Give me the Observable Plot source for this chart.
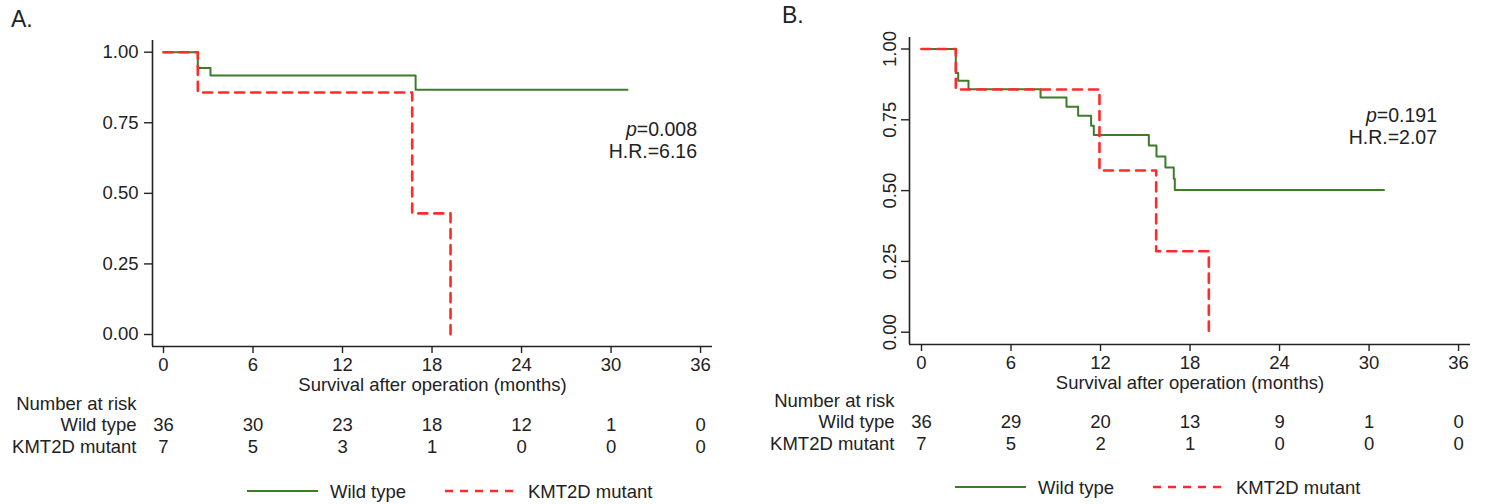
<!DOCTYPE html>
<html>
<head>
<meta charset="utf-8">
<script src="https://cdn.jsdelivr.net/npm/d3@7"></script>
<script src="https://cdn.jsdelivr.net/npm/@observablehq/plot@0.6"></script>
<style>
  html, body { margin: 0; padding: 0; background: #fff; }
  #root { position: relative; width: 1486px; height: 504px; overflow: hidden; font-family: "Liberation Sans", Arial, Helvetica, sans-serif; color: #222; }
  .panel { position: absolute; top: 0; }
  .tag { position: absolute; font-size: 23px; }
  .stat { position: absolute; font-size: 19.5px; text-align: right; line-height: 22px; }
</style>
</head>
<body>
<div id="root"></div>
<script>
// ---------- data ----------
const months = [0, 6, 12, 18, 24, 30, 36];
const yTicks = [0, 0.25, 0.5, 0.75, 1];
const groups = ["Wild type", "KMT2D mutant"];

// Panel A: Kaplan-Meier steps (time in months, survival after the step)
const wildA_t = [0, 2.3, 3.15, 16.9, 31.1];
const wildA_s = [1, 0.944, 0.917, 0.867, 0.867];
const mutA_t = [0, 2.3, 16.67, 19.24];
const mutA_s = [1, 0.857, 0.429, 0];
const riskWildA = [36, 30, 23, 18, 12, 1, 0];
const riskMutA = [7, 5, 3, 1, 0, 0, 0];
const statA = ["0.008", "6.16"];

// Panel B
const wildB_t = [0, 2.3, 2.46, 3.15, 7.98, 9.72, 10.5, 11.37, 11.55, 15.24, 15.75, 16.35, 16.91, 16.98, 31.0];
const wildB_s = [1, 0.915, 0.888, 0.858, 0.829, 0.796, 0.764, 0.729, 0.696, 0.659, 0.62, 0.582, 0.542, 0.502, 0.502];
const mutB_t = [0, 2.3, 11.93, 15.73, 19.26];
const mutB_s = [1, 0.857, 0.571, 0.286, 0];
const riskWildB = [36, 29, 20, 13, 9, 1, 0];
const riskMutB = [7, 5, 2, 1, 0, 0, 0];
const statB = ["0.191", "2.07"];

const xTitle = "Survival after operation (months)";
const riskTitle = "Number at risk";

// ---------- styles ----------
const GREEN = "#3b7d2b";
const RED = "#ff2a2a";
const INK = "#222";
const FONT = '"Liberation Sans", Arial, Helvetica, sans-serif';

function steps(t, s) { return t.map((d, i) => ({t: d, s: s[i]})); }

function panel(cfg) {
  const xDom = cfg.xDom, yDom = cfg.yDom;
  return Plot.plot({
    width: cfg.width, height: 504,
    marginLeft: cfg.ml, marginRight: cfg.mr, marginTop: cfg.mt, marginBottom: 504 - cfg.bottom,
    x: {domain: xDom},
    y: {domain: yDom},
    style: {fontFamily: FONT, fontSize: "18.5px", color: INK, background: "transparent", overflow: "visible"},
    marks: [
      Plot.ruleX([xDom[0]], {stroke: INK, strokeWidth: 1.6}),
      Plot.ruleY([yDom[0]], {stroke: INK, strokeWidth: 1.6}),
      Plot.axisX({ticks: months, tickFormat: d => d, tickSize: 7, tickPadding: 4, strokeWidth: 1.4, label: null}),
      cfg.rotY
        ? Plot.axisY({ticks: yTicks, tickFormat: d3.format(".2f"), tickSize: 8, tickPadding: 6, tickRotate: -90, strokeWidth: 1.4, label: null})
        : Plot.axisY({ticks: yTicks, tickFormat: d3.format(".2f"), tickSize: 8, tickPadding: 6, strokeWidth: 1.4, label: null}),
      Plot.line(steps(cfg.wt, cfg.ws), {x: "t", y: "s", curve: "step-after", stroke: GREEN, strokeWidth: 2}),
      Plot.line(steps(cfg.mt_, cfg.ms), {x: "t", y: "s", curve: "step-after", stroke: RED, strokeWidth: 2.6, strokeDasharray: "9,7"}),
      Plot.text([xTitle], {text: d => d, frameAnchor: "bottom", dy: cfg.dyTitle}),
      Plot.text([riskTitle], {text: d => d, frameAnchor: "bottom-left", textAnchor: "end", dx: cfg.dxLab, dy: cfg.dyRisk}),
      Plot.text([groups[0]], {text: d => d, frameAnchor: "bottom-left", textAnchor: "end", dx: cfg.dxLab, dy: cfg.dyRisk + 21}),
      Plot.text([groups[1]], {text: d => d, frameAnchor: "bottom-left", textAnchor: "end", dx: cfg.dxLab, dy: cfg.dyRisk + 43}),
      Plot.text(months, {x: d => d, text: (d, i) => cfg.rw[i], frameAnchor: "bottom", dy: cfg.dyRisk + 21}),
      Plot.text(months, {x: d => d, text: (d, i) => cfg.rm[i], frameAnchor: "bottom", dy: cfg.dyRisk + 43})
    ]
  });
}

const root = document.getElementById("root");

function place(el, left) {
  const w = document.createElement("div");
  w.className = "panel";
  w.style.left = left + "px";
  w.appendChild(el);
  root.appendChild(w);
}

place(panel({
  width: 740, ml: 152, mr: 28, mt: 40, bottom: 346,
  xDom: [-0.737, 36.8], yDom: [-0.0425, 1.0414],
  wt: wildA_t, ws: wildA_s, mt_: mutA_t, ms: mutA_s, rw: riskWildA, rm: riskMutA,
  dyTitle: 44, dyRisk: 63, dxLab: -16, rotY: false
}), 0);

place(panel({
  width: 743, ml: 166, mr: 16, mt: 37, bottom: 344,
  xDom: [-0.804, 36.8], yDom: [-0.0434, 1.0406],
  wt: wildB_t, ws: wildB_s, mt_: mutB_t, ms: mutB_s, rw: riskWildB, rm: riskMutB,
  dyTitle: 44, dyRisk: 62, dxLab: -15, rotY: true
}), 743);

// panel tags
function addDiv(cls, html, css) {
  const d = document.createElement("div");
  d.className = cls;
  d.innerHTML = html;
  Object.assign(d.style, css);
  root.appendChild(d);
  return d;
}
addDiv("tag", "A.", {left: "11px", top: "6px"});
addDiv("tag", "B.", {left: "782px", top: "2px"});

// statistics
addDiv("stat", "<i>p</i>=" + statA[0] + "<br>H.R.=" + statA[1], {right: (1486 - 697) + "px", top: "118px"});
addDiv("stat", "<i>p</i>=" + statB[0] + "<br>H.R.=" + statB[1], {right: (1486 - 1437) + "px", top: "104px"});

// legends
function legend(left, top) {
  const ns = "http://www.w3.org/2000/svg";
  const svg = document.createElementNS(ns, "svg");
  svg.setAttribute("width", 460); svg.setAttribute("height", 24);
  svg.style.position = "absolute"; svg.style.left = left + "px"; svg.style.top = top + "px"; svg.style.overflow = "visible";
  const items = [
    {x0: 0, x1: 71, tx: 83, stroke: GREEN, w: 2, dash: null, label: groups[0]},
    {x0: 198, x1: 266, tx: 281, stroke: RED, w: 2.6, dash: "8,7", label: groups[1]}
  ];
  for (const it of items) {
    const l = document.createElementNS(ns, "line");
    l.setAttribute("x1", it.x0); l.setAttribute("x2", it.x1);
    l.setAttribute("y1", 12); l.setAttribute("y2", 12);
    l.setAttribute("stroke", it.stroke); l.setAttribute("stroke-width", it.w);
    if (it.dash) l.setAttribute("stroke-dasharray", it.dash);
    svg.appendChild(l);
    const t = document.createElementNS(ns, "text");
    t.setAttribute("x", it.tx); t.setAttribute("y", 12);
    t.setAttribute("dominant-baseline", "central");
    t.setAttribute("font-family", FONT); t.setAttribute("font-size", "18.5px"); t.setAttribute("fill", INK);
    t.textContent = it.label;
    svg.appendChild(t);
  }
  root.appendChild(svg);
}
legend(247, 479);
legend(955, 475);
</script>
</body>
</html>
